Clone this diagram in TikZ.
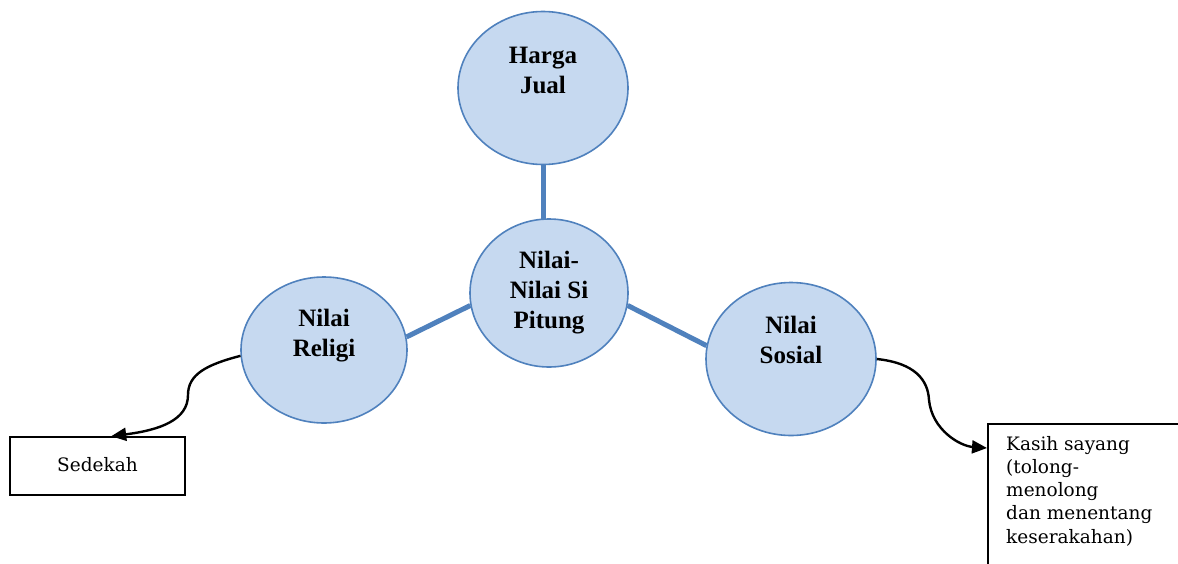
\documentclass[tikz,border=0pt]{standalone}
\usepackage{fontspec}
\setmainfont{Liberation Serif}
\newfontfamily\boxfont{DejaVu Serif}
\usetikzlibrary{shapes.geometric,arrows.meta}
\definecolor{bfill}{RGB}{198,217,240}
\definecolor{bline}{RGB}{79,129,189}
\begin{document}
\begin{tikzpicture}[x=1pt,y=-1pt,
  blob/.style={ellipse,draw=bline,line width=1.6pt,fill=bfill,inner sep=0pt},
  blabel/.style={font=\fontsize{25}{30}\selectfont\bfseries,align=center},
  link/.style={draw=bline,line width=5pt},
  textbox/.style={draw,line width=1.6pt,rectangle,inner sep=0pt},
  boxtext/.style={font=\boxfont\fontsize{18.5}{23.2}\selectfont,align=left,inner sep=0pt},
  curvearrow/.style={line width=2.4pt,-{Triangle[length=15pt,width=13pt]}}]
\useasboundingbox (0,0) rectangle (1178,563);
\fill[white] (0,0) rectangle (1178,563);
% ellipses
\node[blob,minimum width=170pt,minimum height=153pt,
  label={[blabel,yshift=18pt]center:Harga\\Jual}] (hj) at (543,88) {};
\node[blob,minimum width=158pt,minimum height=148pt,blabel] (ctr) at (549,293) {Nilai-\\Nilai Si\\Pitung};
\node[blob,minimum width=166pt,minimum height=146pt,
  label={[blabel,yshift=14pt]center:Nilai\\Religi}] (rel) at (324,350) {};
\node[blob,minimum width=170pt,minimum height=153pt,
  label={[blabel,yshift=19pt]center:Nilai\\Sosial}] (sos) at (791,359) {};
% links
\draw[link] (hj.south) -- ([yshift=-2pt]hj.south |- ctr.north);
\draw[link] (rel.9) -- (ctr.189);
\draw[link] (ctr.351) -- (sos.171);
% boxes
\node[textbox,minimum width=175pt,minimum height=58pt,boxtext] (sed) at (97.5,466) {\raisebox{4pt}{Sedekah}};
\begin{scope}
\clip (0,0) rectangle (1178,563);
\node[textbox,anchor=north west,minimum width=220pt,minimum height=180pt] (ks) at (987,423) {};
\end{scope}
\node[boxtext,anchor=north west] (kstext) at (1006,436) {Kasih sayang\\(tolong-\\menolong\\dan menentang\\keserakahan)};
% curved arrows
\draw[curvearrow] (rel.184) .. controls (205,365) and (188,375) .. (188,395)
  .. controls (188,420) and (160,430) .. ([xshift=102pt]sed.north west);
\draw[curvearrow] (sos.0) .. controls (915,363) and (928,380) .. (929,400)
  .. controls (932,430) and (960,446) .. ([yshift=-25pt]ks.north west);
\end{tikzpicture}
\end{document}
